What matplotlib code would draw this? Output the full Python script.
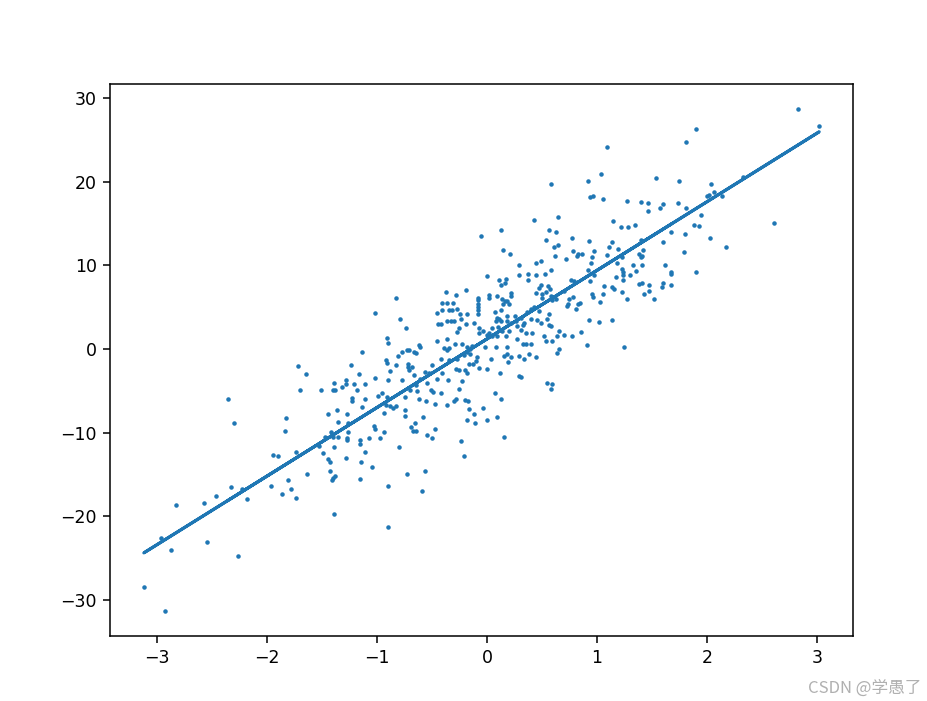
import numpy as np
import matplotlib
matplotlib.use("Agg")
import matplotlib.pyplot as plt

# points, left to right roughly
x_vals = [
    # far left
    -2.355, -2.30, -1.827, -1.836, -1.945, -1.90, -1.81, -1.964, -1.864, -2.327,
    -2.227, -2.464, -2.573, -2.182, -2.827, -2.964, -2.873, -2.545, -2.264, -3.118,
    -2.927,
    # around -1.5
    -1.139, -1.715, -1.645, -1.236, -1.166, -1.388, -1.279, -1.279, -1.209, -1.112,
    -1.018, -1.70, -1.509, -1.403, -1.379, -1.318, -1.182, -1.225, -1.225, -1.112,
    -1.139, -1.443, -1.361, -1.275, -1.355, -1.264, -1.027, -1.015, -1.418, -1.47,
    -1.403, -1.357, -1.261, -1.275, -1.275, -1.157, -1.155, -1.073, -1.53, -1.388,
    -1.739, -1.494, -1.112, -1.443, -1.427, -1.279, -1.143, -1.045, -1.427, -1.634,
    -1.379, -1.397, -1.412, -1.152, -1.782, -1.739, -1.388,
    # around -0.75
    -0.827, -1.015, -0.788, -0.734, -0.912, -0.897, -0.621, -0.609, -0.73, -0.712,
    -0.77, -0.812, -0.664, -0.648, -0.921, -0.906, -0.824, -0.715, -0.715, -0.685,
    -0.712, -0.882, -0.497, -0.897, -0.773, -0.661, -0.566, -0.527, -0.609, -0.548,
    -0.648, -0.703, -0.634, -0.506, -0.494, -0.952, -0.988, -0.906, -0.745, -0.615,
    -0.552, -0.473, -0.921, -0.879, -0.83, -0.852, -0.745, -0.936, -0.745, -0.579,
    -0.658, -0.691, -0.676, -0.645, -0.543, -0.497, -0.473, -0.975, -0.936, -0.80,
    -0.73, -0.566, -0.897, -0.594, -0.90,
    # around -0.25
    -0.188, -0.376, -0.279, -0.406, -0.361, -0.306, -0.079, -0.079, -0.079, -0.079,
    -0.079, -0.079, -0.457, -0.406, -0.348, -0.318, -0.27, -0.248, -0.179, -0.239,
    -0.445, -0.415, -0.361, -0.324, -0.30, -0.188, -0.118, -0.255, -0.27, -0.073,
    -0.073, -0.033, -0.452, -0.367, -0.294, -0.224, -0.185, -0.157, -0.133, -0.391,
    -0.367, -0.348, -0.179, -0.157, -0.209, -0.088, -0.421, -0.345, -0.27, -0.103,
    -0.164, -0.124, -0.285, -0.255, -0.20, -0.179, -0.073, -0.406, -0.457, -0.355,
    -0.224, -0.255, -0.415, -0.285, -0.30, -0.203, -0.173, -0.361, -0.164, -0.118,
    -0.033, -0.179, -0.112, -0.239, -0.209, -0.055,
    # around 0.2
    0.13, 0.145, 0.209, 0.291, 0.291, 0.376, 0.376, 0.003, 0.109, 0.176,
    0.161, 0.124, 0.018, 0.018, 0.088, 0.133, 0.215, 0.215, 0.161, 0.185,
    0.2, 0.145, 0.07, 0.13, 0.088, 0.109, 0.079, 0.13, 0.179, 0.179,
    0.252, 0.306, 0.367, 0.397, 0.397, 0.267, 0.215, 0.276, 0.33, 0.336,
    0.048, 0.1, 0.018, 0.139, 0.2, 0.306, 0.352, 0.412, 0.17, 0.003,
    0.048, 0.094, 0.276, 0.33, 0.352, -0.018, 0.079, 0.179, 0.397, 0.155,
    0.185, 0.191, 0.221, 0.336, 0.291, 0.382, 0.033, -0.003, 0.118, 0.291,
    0.312, 0.073, 0.127, 0.088, 0.003, 0.155,
    # around 0.7
    0.579, 0.918, 0.933, 0.964, 0.645, 0.427, 0.564, 0.624, 0.539, 0.609,
    0.648, 0.77, 0.927, 0.785, 0.827, 0.867, 0.821, 0.973, 0.958, 0.715,
    0.618, 0.494, 0.442, 0.942, 0.579, 0.527, 0.442, 0.918, 0.973, 0.761,
    0.791, 0.936, 0.488, 0.473, 0.558, 0.57, 0.533, 0.503, 0.585, 0.70,
    0.442, 0.503, 0.427, 0.594, 0.624, 0.745, 0.785, 0.845, 0.83, 0.739,
    0.73, 0.806, 0.958, 0.967, 0.473, 0.564, 0.542, 0.457, 0.488, 0.564,
    0.579, 0.927, 0.655, 0.639, 0.70, 0.77, 0.852, 0.518, 0.539, 0.588,
    0.442, 0.912, 0.655, 0.633, 0.548, 0.594, 0.579,
    # around 1.25
    1.094, 1.039, 1.058, 1.276, 1.397, 1.464, 1.464, 1.148, 1.221, 1.285,
    1.342, 1.397, 1.139, 1.109, 1.194, 1.421, 1.094, 1.23, 1.382, 1.397,
    1.412, 1.179, 1.33, 1.412, 1.23, 1.239, 1.352, 1.30, 1.17, 1.239,
    1.239, 1.064, 1.139, 1.155, 1.382, 1.406, 1.473, 1.23, 1.473, 1.427,
    1.058, 1.276, 1.518, 1.027, 1.018, 1.139, 1.245,
    # far right
    2.827, 3.018, 1.90, 1.803, 1.533, 1.748, 2.036, 2.064, 1.997, 2.018,
    2.139, 2.321, 1.573, 1.603, 1.736, 1.806, 1.942, 1.876, 1.927, 1.67,
    1.794, 1.603, 2.024, 2.609, 2.173, 1.791, 1.615, 1.67, 1.67, 1.90,
    1.603, 1.585, 1.67,
]

y_vals = [
    # far left
    -5.95, -8.81, -8.21, -9.76, -12.62, -12.74, -15.6, -16.43, -17.38, -16.55,
    -16.79, -17.62, -18.45, -17.98, -18.69, -22.62, -24.05, -23.1, -24.76, -28.45,
    -31.3,
    # around -1.5
    -0.32, -2.06, -2.98, -1.90, -2.98, -4.05, -3.73, -4.2, -4.2, -4.2,
    -3.49, -4.92, -4.92, -4.92, -4.92, -4.6, -4.96, -5.87, -6.23, -6.04,
    -6.94, -7.77, -7.26, -7.82, -8.69, -8.89, -9.17, -9.56, -9.96, -10.48,
    -10.48, -10.48, -9.88, -10.63, -10.87, -10.83, -11.35, -10.63, -11.55, -11.7,
    -12.26, -12.42, -12.26, -13.13, -13.54, -12.98, -13.54, -14.05, -14.56, -14.92,
    -15.15, -15.44, -15.68, -15.48, -16.75, -17.77, -19.73,
    # around -0.75
    6.11, 4.32, 3.61, 2.54, 1.35, 0.75, 0.44, 0.24, -0.12, -0.12,
    -0.32, -0.83, -0.32, -0.51, -1.35, -1.67, -1.87, -1.82, -2.14, -2.14,
    -2.46, -2.62, -1.94, -3.73, -3.73, -3.06, -2.77, -2.86, -3.61, -4.01,
    -4.32, -4.85, -5.0, -4.92, -5.2, -5.27, -5.68, -5.71, -5.71, -6.04,
    -6.19, -6.59, -6.71, -6.79, -6.79, -7.06, -7.26, -7.62, -7.98, -8.17,
    -8.89, -9.37, -9.76, -9.76, -10.27, -10.68, -9.56, -10.68, -9.96, -11.7,
    -14.92, -14.6, -16.39, -16.94, -21.3,
    # around -0.25
    7.1, 6.82, 6.46, 5.44, 5.44, 5.44, 6.11, 5.8, 5.39, 5.0,
    4.6, 4.2, 4.32, 4.64, 4.64, 4.64, 4.72, 4.13, 4.2, 3.61,
    2.94, 2.94, 3.33, 3.33, 3.33, 2.94, 3.13, 2.54, 2.02, 2.46,
    1.94, 2.14, 0.95, 1.15, 0.63, 0.63, 0.28, -0.04, 0.36, 0.16,
    -0.16, 0.08, -0.36, -0.56, -0.75, -0.95, -1.15, -1.35, -1.15, -1.43,
    -1.75, -1.82, -2.42, -2.5, -2.5, -2.82, -2.22, -2.9, -3.61, -3.69,
    -3.81, -4.8, -5.27, -5.99, -6.19, -6.11, -6.19, -6.71, -7.18, -7.77,
    -7.06, -8.45, -8.85, -11.04, -12.74, 13.45,
    # around 0.2
    14.17, 11.87, 11.31, 10.08, 8.81, 9.01, 8.21, 8.69, 8.29, 8.41,
    7.86, 7.58, 6.43, 6.03, 6.31, 5.91, 6.71, 6.31, 5.71, 5.71,
    5.32, 5.32, 4.4, 4.6, 3.73, 3.53, 3.33, 3.33, 3.93, 3.33,
    3.93, 3.73, 4.44, 4.72, 3.53, 3.33, 3.13, 2.74, 2.86, 3.13,
    2.54, 2.62, 1.94, 2.14, 2.14, 2.22, 1.94, 1.94, 1.55, 1.63,
    1.55, 1.55, 1.15, 0.63, 0.63, 0.24, 0.24, 0.24, 0.56, -0.83,
    -0.63, -1.51, -0.95, -1.23, -0.83, -0.63, -1.15, -2.34, -2.82, -3.25,
    -3.41, -5.27, -5.99, -8.13, -8.49, -10.48,
    # around 0.7
    19.68, 20.08, 18.13, 18.29, 15.8, 15.44, 14.17, 13.97, 13.06, 12.14,
    12.38, 13.25, 12.94, 11.67, 11.35, 11.35, 11.07, 11.67, 10.95, 10.75,
    11.15, 10.56, 10.28, 10.28, 9.48, 8.97, 8.81, 9.48, 8.89, 8.29,
    8.1, 8.1, 7.58, 7.3, 7.5, 7.22, 6.82, 6.51, 6.31, 6.9,
    6.63, 6.11, 5.0, 5.8, 5.91, 5.91, 6.19, 5.51, 5.32, 5.32,
    5.12, 4.72, 6.51, 6.19, 4.52, 4.13, 3.53, 3.41, 3.13, 2.82,
    2.74, 3.45, 2.14, 1.55, 1.67, 1.55, 2.06, 1.55, 0.95, 0.95,
    -0.95, 0.48, 0.04, -0.44, -4.01, -4.2, -4.8,
    # around 1.25
    24.17, 20.95, 17.9, 17.7, 17.54, 17.38, 16.51, 15.24, 14.52, 14.52,
    14.84, 13.06, 12.78, 12.18, 11.98, 11.87, 11.27, 10.95, 11.35, 10.95,
    11.07, 10.28, 10.08, 10.08, 9.56, 9.2, 9.37, 8.81, 8.61, 8.81,
    8.29, 7.54, 7.38, 7.22, 7.78, 7.9, 7.58, 6.82, 6.9, 6.51,
    6.51, 5.99, 5.91, 5.6, 3.25, 3.45, 0.24,
    # far right
    28.65, 26.67, 26.31, 24.68, 20.4, 20.08, 19.68, 18.81, 18.29, 18.37,
    18.29, 20.6, 16.83, 17.34, 17.38, 16.83, 15.95, 14.84, 14.68, 13.97,
    13.77, 12.74, 13.25, 15.04, 12.22, 11.63, 10.08, 9.17, 8.97, 9.17,
    7.9, 7.38, 7.58,
]

# fitted line
slope = 8.2
intercept = 1.2

x = np.array(x_vals)
y = np.array(y_vals)

fig = plt.figure(figsize=(9.27, 7.01), dpi=100)
ax = fig.add_axes([0.1187, 0.0927, 0.8015, 0.7874])
ax.scatter(x, y, s=5)
ax.plot(x, slope * x + intercept, lw=2.2)
ax.tick_params(labelsize=12.5, length=5, width=1.1, pad=4.5)
for sp in ax.spines.values():
    sp.set_linewidth(1.1)

fig.text(0.9935, 0.0185, "CSDN @学愚了", ha="right", va="center",
         fontsize=12, color="#b0b0b0",
         family=["Noto Sans CJK SC", "DejaVu Sans"])

fig.savefig("out.png", dpi=100)
